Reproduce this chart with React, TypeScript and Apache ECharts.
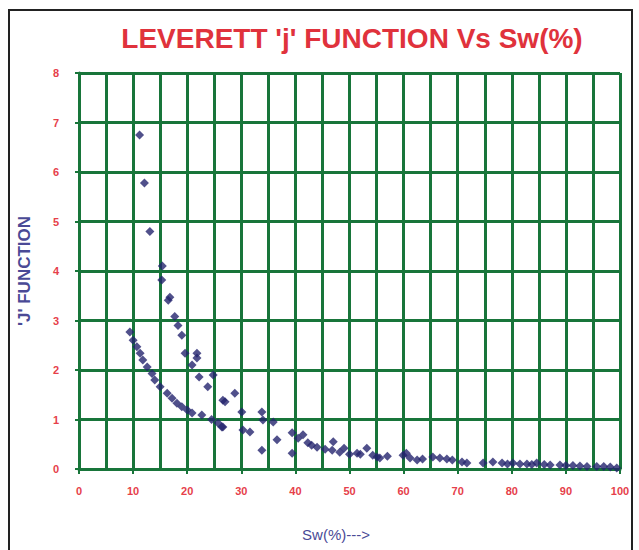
import React, { useEffect, useRef } from "react";
import * as echarts from "echarts";

const titleText = "LEVERETT 'j' FUNCTION Vs Sw(%)";
const xAxisName = "Sw(%)--->";
const yAxisName = "'J' FUNCTION";

// Sw (%) values
const swValues = [
  11.2, 12.1, 13.1, 15.4, 15.3, 16.8, 16.5, 17.7, 18.3, 19.0, 19.6, 21.8, 21.8, 20.9, 22.2,
  24.8, 23.8, 26.6, 28.8, 27.0, 25.7, 26.6, 30.1, 30.3, 31.6, 33.8, 34.0, 35.9, 33.8, 36.6,
  39.4, 41.4, 39.4, 42.3, 44.0, 47.0, 46.8, 48.2, 50.0, 51.4, 53.2, 55.1,
  9.4, 10.0, 10.7, 11.3, 11.8, 12.6, 13.5, 14.0, 15.0, 16.3, 17.2, 18.1, 19.0, 20.0, 20.9,
  22.7, 24.5, 26.4,
  54.3, 55.6, 59.9, 60.5, 61.2, 62.5, 65.4, 66.7, 69.0, 70.8, 71.7, 74.7, 76.5, 78.2, 80.2,
  82.8, 84.6, 87.1, 88.9, 91.3, 93.9, 95.7, 98.2, 99.4,
  40.5, 43.0, 45.5, 49.0, 52.0, 57.0, 63.5, 68.0, 79.2, 81.5, 83.7, 86.0, 90.0, 92.6, 97.0,
];
// J function values
const jValues = [
  6.75, 5.78, 4.8, 4.1, 3.82, 3.47, 3.41, 3.08, 2.9, 2.7, 2.34, 2.34, 2.24, 2.1, 1.86,
  1.9, 1.66, 1.39, 1.53, 1.36, 0.93, 0.85, 1.15, 0.79, 0.75, 1.15, 0.99, 0.95, 0.38, 0.59,
  0.73, 0.69, 0.32, 0.53, 0.44, 0.55, 0.38, 0.34, 0.3, 0.32, 0.42, 0.24,
  2.77, 2.6, 2.47, 2.34, 2.2, 2.06, 1.93, 1.8, 1.66, 1.53, 1.43, 1.33, 1.26, 1.19, 1.13,
  1.09, 1.0, 0.85,
  0.28, 0.22, 0.28, 0.32, 0.22, 0.18, 0.24, 0.22, 0.18, 0.14, 0.12, 0.12, 0.14, 0.12, 0.12,
  0.1, 0.12, 0.08, 0.08, 0.07, 0.05, 0.05, 0.04, 0.02,
  0.62, 0.48, 0.4, 0.42, 0.3, 0.26, 0.2, 0.2, 0.1, 0.1, 0.09, 0.09, 0.07, 0.06, 0.05,
];

const GREEN = "#18753a";
const RED = "#e6404a";
const BLUE = "#4a4a96";
const MARK = "#24246e";

export default function App() {
  const ref = useRef<HTMLDivElement>(null);
  useEffect(() => {
    if (!ref.current) return;
    const chart = echarts.init(ref.current, null, { renderer: "svg" });
    const data = swValues.map((s, i) => [s, jValues[i]]);
    chart.setOption({
      animation: false,
      backgroundColor: "#ffffff",
      title: {
        text: titleText,
        left: 347,
        top: 19,
        textAlign: "center",
        textStyle: {
          color: "#e0323c",
          fontSize: 28,
          fontWeight: "bold",
          fontFamily: "Liberation Sans, Arial, sans-serif",
        },
      },
      graphic: [
        {
          type: "rect",
          shape: { x: 9, y: 10, width: 623, height: 545 },
          style: { fill: "none", stroke: "#222", lineWidth: 2 },
          silent: true,
        },
      ],
      grid: { left: 79, right: 19, top: 73, bottom: 81 },
      xAxis: {
        type: "value",
        min: 0,
        max: 100,
        interval: 10,
        name: xAxisName,
        nameLocation: "middle",
        nameGap: 58,
        nameTextStyle: {
          color: BLUE,
          fontSize: 15,
          fontFamily: "Liberation Sans, Arial, sans-serif",
          padding: [0, 27, 0, 0],
        },
        axisLine: { show: true, lineStyle: { color: GREEN, width: 3 } },
        axisTick: { show: true, length: 5, lineStyle: { color: GREEN, width: 2 } },
        axisLabel: {
          color: RED,
          fontSize: 11,
          fontWeight: "bold",
          margin: 16,
          fontFamily: "Liberation Sans, Arial, sans-serif",
        },
        splitLine: { show: true, lineStyle: { color: GREEN, width: 3 } },
        minorTick: { show: false, splitNumber: 2 },
        minorSplitLine: { show: true, lineStyle: { color: GREEN, width: 3 } },
      },
      yAxis: {
        type: "value",
        min: 0,
        max: 8,
        interval: 1,
        name: yAxisName,
        nameLocation: "middle",
        nameGap: 46,
        nameRotate: 90,
        nameTextStyle: {
          color: BLUE,
          fontSize: 17,
          fontWeight: "bold",
          fontFamily: "Liberation Sans, Arial, sans-serif",
        },
        axisLine: { show: true, lineStyle: { color: GREEN, width: 3 } },
        axisTick: { show: true, length: 4, lineStyle: { color: GREEN, width: 2 } },
        axisLabel: {
          color: RED,
          fontSize: 11,
          fontWeight: "bold",
          margin: 20,
          fontFamily: "Liberation Sans, Arial, sans-serif",
        },
        splitLine: { show: true, lineStyle: { color: GREEN, width: 3 } },
      },
      series: [
        {
          type: "scatter",
          data,
          symbol: "diamond",
          symbolSize: 9,
          itemStyle: { color: MARK },
          z: 5,
        },
      ],
    });
    return () => chart.dispose();
  }, []);
  return (
    <div
      ref={ref}
      style={{ position: "absolute", left: 0, top: 0, width: 639, height: 550 }}
    />
  );
}
